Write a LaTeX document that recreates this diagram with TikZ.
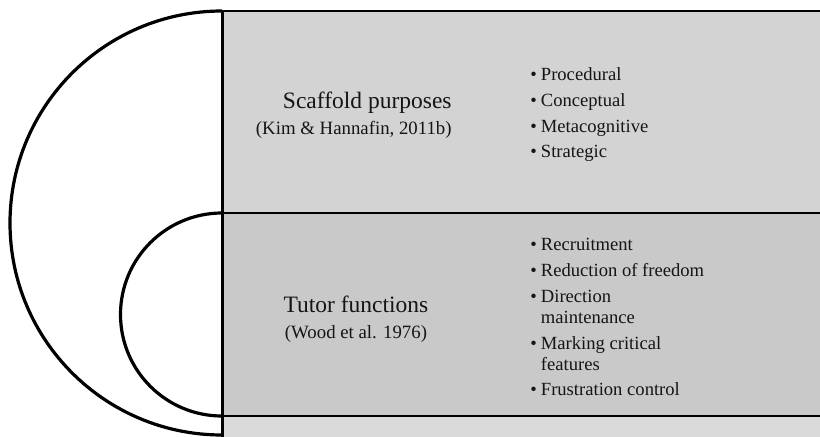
\documentclass[tikz,border=0pt]{standalone}
\usepackage{fontspec}
\setmainfont{Liberation Serif}
\definecolor{topgray}{HTML}{D3D3D3}
\definecolor{midgray}{HTML}{C9C9C9}
\definecolor{lowgray}{HTML}{DADADA}
\definecolor{inkgray}{HTML}{151515}
\newcommand{\citefont}{\fontsize{9.4}{13}\selectfont}
\newcommand{\itemgap}{\\[2.4pt]}
\tikzset{
      bandbox/.style={
        draw=black,
        line width=1.2pt
      },
      arcline/.style={
        draw=black,
        line width=1.6pt
      },
      headtext/.style={
        font=\fontsize{11.75}{13}\selectfont,
        text=inkgray,
        inner sep=0pt
      },
      listtext/.style={
        font=\fontsize{9.3}{10.5}\selectfont,
        text=inkgray,
        inner sep=0pt,
        anchor=west
      }
    }
\begin{document}
\begin{tikzpicture}[x=0.5pt,y=0.5pt]
    \useasboundingbox (0,0) rectangle (820,436);
    \clip (0,0) rectangle (820,436);
    % bands
    \fill[lowgray] (222,-10) rectangle (830,20);
    \filldraw[bandbox, fill=midgray] (222,20) rectangle (830,223);
    \filldraw[bandbox, fill=topgray] (222,223) rectangle (830,425);
    \draw[line width=1.5pt] (222,425) -- (222,-10);
    % arcs
    \draw[arcline] (222,425) arc[start angle=90, end angle=270, radius=212];
    \draw[arcline] (222,223) arc[start angle=90, end angle=270, radius=101.5];
    % texts
    \node[headtext, align=right, anchor=east] (t0) at (452,321) {Scaffold purposes\\{\citefont (Kim \& Hannafin, 2011b)}};
    \node[headtext, align=center] (t1) at (356,117) {Tutor functions\\{\citefont (Wood et al. 1976)}};
    \node[listtext] (l0) at (530,321) {\begin{tabular}{@{}l@{\hspace{2pt}}l@{}}
        \textbullet & Procedural\itemgap
        \textbullet & Conceptual\itemgap
        \textbullet & Metacognitive\itemgap
        \textbullet & Strategic
      \end{tabular}};
    \node[listtext] (l1) at (530,117) {\begin{tabular}{@{}l@{\hspace{2pt}}l@{}}
        \textbullet & Recruitment\itemgap
        \textbullet & Reduction of freedom\itemgap
        \textbullet & Direction\\
                    & maintenance\itemgap
        \textbullet & Marking critical\\
                    & features\itemgap
        \textbullet & Frustration control
      \end{tabular}};
    \end{tikzpicture}
\end{document}
